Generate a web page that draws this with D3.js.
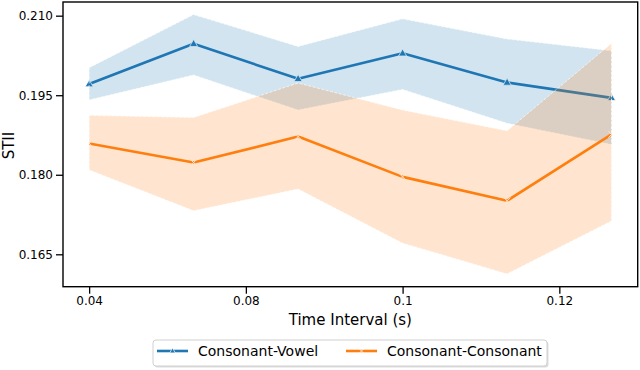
<!DOCTYPE html>
<html>
<head>
<meta charset="utf-8">
<script src="https://cdn.jsdelivr.net/npm/d3@7"></script>
<style>
  body { margin: 0; background: #fff; }
  svg { font-family: "DejaVu Sans", sans-serif; }
</style>
</head>
<body>
<div id="chart"></div>
<script>
// data
const timeSteps = [0, 1, 2, 3, 4, 5];
const xTickPos = [0, 1.5, 3, 4.5];
const xTickLabels = ["0.04", "0.08", "0.1", "0.12"];
const yTicks = [0.165, 0.180, 0.195, 0.210];

const cvMean  = [0.1971, 0.2047, 0.1981, 0.2029, 0.1974, 0.1945];
const cvUpper = [0.2002, 0.2102, 0.2042, 0.2094, 0.2056, 0.2034];
const cvLower = [0.1941, 0.1988, 0.1922, 0.1961, 0.1897, 0.1857];

const ccMean  = [0.1859, 0.1823, 0.1872, 0.1796, 0.1751, 0.1876];
const ccUpper = [0.1912, 0.1908, 0.1973, 0.1922, 0.1883, 0.2048];
const ccLower = [0.1809, 0.1732, 0.1773, 0.1671, 0.1613, 0.1713];

const seriesNames = ["Consonant-Vowel", "Consonant-Consonant"];

const series = [
  {name: seriesNames[0], color: "#1f77b4", marker: "tri", mean: cvMean, lo: cvLower, hi: cvUpper},
  {name: seriesNames[1], color: "#ff7f0e", marker: "x", mean: ccMean, lo: ccLower, hi: ccUpper}
];

const W = 640, H = 370;
const margin = {top: 2, right: 2.3, bottom: 83.3, left: 63};
const width = W - margin.left - margin.right,
      height = H - margin.top - margin.bottom;

const svg = d3.select("#chart").append("svg")
  .attr("width", W).attr("height", H);
const g = svg.append("g")
  .attr("transform", "translate(" + margin.left + "," + margin.top + ")");

const x = d3.scaleLinear().domain([-0.25, 5.25]).range([0, width]);
const y = d3.scaleLinear().domain([0.15889, 0.21258]).range([height, 0]);

// bands + lines
const area = d3.area()
  .x(d => x(d.t)).y0(d => y(d.lo)).y1(d => y(d.hi));
const line = d3.line().x(d => x(d.t)).y(d => y(d.v));

const triPath = "M0,-4.4L4,2.7L-4,2.7Z";
const xPath = "M-3.2,-3.2L3.2,3.2M-3.2,3.2L3.2,-3.2";

series.forEach(s => {
  const pts = timeSteps.map((t, i) => ({t: t, v: s.mean[i], lo: s.lo[i], hi: s.hi[i]}));

  g.append("path")
    .attr("d", line(pts))
    .attr("fill", "none")
    .attr("stroke", s.color)
    .attr("stroke-width", 2.6)
    .attr("stroke-linejoin", "round");

  g.selectAll(null).data(pts).enter().append("path")
    .attr("transform", d => "translate(" + x(d.t) + "," + y(d.v) + ")")
    .attr("d", s.marker === "tri" ? triPath : xPath)
    .attr("fill", s.marker === "tri" ? s.color : "none")
    .attr("stroke", "#fff")
    .attr("stroke-width", s.marker === "tri" ? 0.8 : 1);

  g.append("path")
    .attr("d", area(pts))
    .attr("fill", s.color)
    .attr("fill-opacity", 0.2)
    .attr("stroke", "#fff")
    .attr("stroke-opacity", 0.8)
    .attr("stroke-width", 0.8)
    .attr("stroke-dasharray", "3,1.5");
});

// axes
const xAxis = g.append("g")
  .attr("transform", "translate(0," + height + ")")
  .call(d3.axisBottom(x).tickValues(xTickPos)
    .tickFormat((d, i) => xTickLabels[i]).tickSize(7).tickPadding(3).tickSizeOuter(0));
const yAxis = g.append("g")
  .call(d3.axisLeft(y).tickValues(yTicks)
    .tickFormat(d3.format(".3f")).tickSize(7).tickPadding(3).tickSizeOuter(0));

[xAxis, yAxis].forEach(a => {
  a.select(".domain").remove();
  a.selectAll(".tick line").attr("stroke", "#000").attr("stroke-width", 1.3);
  a.selectAll(".tick text").attr("fill", "#000")
    .style("font-size", "12px").style("font-family", "DejaVu Sans");
});

// frame
g.append("rect")
  .attr("width", width).attr("height", height)
  .attr("fill", "none").attr("stroke", "#000").attr("stroke-width", 1.4);

// axis labels
g.append("text")
  .attr("x", width / 2).attr("y", height + 38)
  .attr("text-anchor", "middle")
  .style("font-size", "15px")
  .text("Time Interval (s)");

svg.append("text")
  .attr("transform", "translate(13.5," + (margin.top + y(0.1855)) + ") rotate(-90)")
  .attr("text-anchor", "middle")
  .style("font-size", "15px")
  .text("STII");

// legend
const leg = svg.append("g").attr("transform", "translate(153,340)");
leg.append("rect")
  .attr("x", 1.5).attr("y", 1.5).attr("width", 394).attr("height", 26)
  .attr("rx", 3).attr("fill", "#bbb").attr("opacity", 0.5);
leg.append("rect")
  .attr("width", 394).attr("height", 26)
  .attr("rx", 3).attr("fill", "#fff").attr("stroke", "#d0d0d0").attr("stroke-width", 1);

const legX = [4, 193];
series.forEach((s, i) => {
  const lg = leg.append("g").attr("transform", "translate(" + legX[i] + ",11)");
  lg.append("line").attr("x1", 0).attr("x2", 31)
    .attr("stroke", s.color).attr("stroke-width", 2.6);
  lg.append("path")
    .attr("transform", "translate(15.5,0) scale(0.7)")
    .attr("d", s.marker === "tri" ? triPath : xPath)
    .attr("fill", s.marker === "tri" ? s.color : "none")
    .attr("stroke", "#fff").attr("stroke-width", 1);
  lg.append("text")
    .attr("x", 41).attr("y", 0).attr("dy", "0.35em")
    .style("font-size", "14px")
    .text(s.name);
});
</script>
</body>
</html>
